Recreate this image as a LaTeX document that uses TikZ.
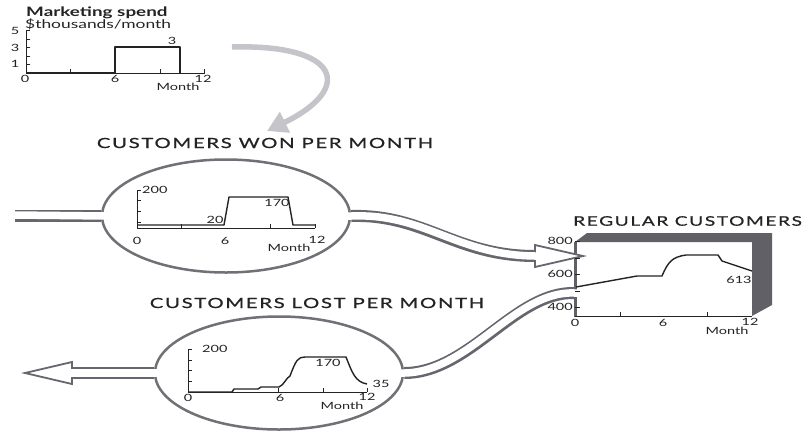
\documentclass[tikz,border=0pt]{standalone}
\usepackage{fontspec}
\setmainfont{Lato}[FakeStretch=1.45]
\newfontfamily\headfont{Lato}[FakeStretch=1.45,LetterSpace=12,FakeBold=0.8]
\usetikzlibrary{arrows.meta, shapes.geometric}
\definecolor{pipegray}{RGB}{102,102,110}
\definecolor{rimgray}{RGB}{112,112,118}
\definecolor{boxgray}{RGB}{96,96,102}
\definecolor{nudgegray}{RGB}{196,196,202}
\definecolor{inkgray}{RGB}{35,35,35}

\begin{document}
\begin{tikzpicture}[
        x=1pt, y=-1pt,
        every node/.style={font=\fontsize{10}{10}\selectfont, inner sep=0pt, text=inkgray},
        heading/.style={font=\headfont\fontsize{14}{14}\selectfont},
        axis/.style={line width=1pt, inkgray},
        plotline/.style={line width=1.4pt, inkgray, line join=round},
        rim/.style={ellipse, draw=rimgray, line width=2.5pt, fill=white, minimum width=248pt, minimum height=113pt},
        pipe/.style={line width=12pt, draw=pipegray},
        pipecore/.style={line width=7.5pt, draw=white, yshift=1pt},
        pipehead/.style={draw=pipegray, line width=1.8pt, fill=white, line join=miter},
        wall/.style={line width=3pt, boxgray}
    ]
    \useasboundingbox (0,0) rectangle (809,437);

    \node[font=\bfseries\fontsize{13}{13}\selectfont, anchor=base west] (spendtitle) at (26,16) {Marketing spend};
    \node[font=\fontsize{12}{12}\selectfont, anchor=base west] (spendunit) at (25,28) {\$thousands/month};
    \draw[axis] (26,30) -- (26,73) -- (205,73);
    \foreach \y in {30,39,47,56,64} \draw[axis] (26,\y) -- (30,\y);
    \foreach \x in {70,160,204} \draw[axis] (\x,73) -- (\x,69);
    \draw[plotline] (26,73) -- (115,73) -- (115,47) -- (180,47) -- (180,73);
    \node (s5) at (15,31) {5};
    \node (s3) at (15,48) {3};
    \node (s1) at (15,64) {1};
    \node (s3top) at (172,41) {3};
    \node (s0) at (25,79) {0};
    \node (s6) at (115,79) {6};
    \node (s12) at (203,79) {12};
    \node (smonth) at (178,87) {Month};

    \coordinate (nudge) at (232,47);
    \coordinate (nudgetip) at (267,131);
    \draw[line width=5.5pt, nudgegray, -{Triangle[length=20pt, width=22pt]}] (nudge) .. controls (340,44) and (355,88) .. (nudgetip);

    \node[heading] (wontitle) at (265,143) {CUSTOMERS WON PER MONTH};
    \node[heading] (losttitle) at (317,303) {CUSTOMERS LOST PER MONTH};
    \node[heading, font=\headfont\fontsize{13.2}{13.2}\selectfont, anchor=west] (stocktitle) at (573,221) {REGULAR CUSTOMERS};

    \node[rim] (won) at (226,216) {};
    \node[rim] (lost) at (279,373) {};

    \fill[boxgray] (575,242) -- (587,233) -- (772,233) -- (772,305) -- (752,316) -- (752,242) -- cycle;
    \draw[wall] (575,242) -- (575,317);

    \coordinate (inlet) at (535,256);
    \coordinate (drain) at (575,293);
    \coordinate (outlet) at (72,373);

    \draw[pipe] (15,216) -- (won.west);
    \draw[pipe] (won.east) .. controls (425,214) and (455,256) .. (inlet);
    \draw[pipe] (drain) .. controls (515,291) and (470,373) .. (lost.east);
    \draw[pipe] (lost.west) -- (outlet);
    \draw[pipehead] (535,245) -- (583,256) -- (535,267) -- cycle;
    \draw[pipehead] (72,362) -- (25,373) -- (72,384) -- cycle;
    \draw[pipecore] (15,216) -- ([xshift=5pt]won.west);
    \draw[pipecore] ([xshift=-5pt]won.east) -- (won.east) .. controls (425,214) and (455,256) .. (inlet) -- ++(6,0);
    \draw[pipecore] ([xshift=6pt]drain) -- (drain) .. controls (515,291) and (470,373) .. (lost.east) -- ++(-5,0);
    \draw[pipecore] ([xshift=5pt]lost.west) -- (lost.west) -- (outlet) -- ++(-6,0);

    \draw[axis] (137,190) -- (137,228) -- (315,228);
    \foreach \y in {190,200,211,222} \draw[axis] (137,\y) -- (141,\y);
    \foreach \x in {181,270,315} \draw[axis] (\x,228) -- (\x,224);
    \draw[plotline] (137,225) -- (224,225) -- (229,197) -- (288,197) -- (293,225) -- (315,225);
    \node[anchor=west] (w200) at (142,190) {200};
    \node (w20) at (215,220) {20};
    \node (w170) at (277,203) {170};
    \node (w0) at (137,241) {0};
    \node (w6) at (225,241) {6};
    \node (w12) at (317,240) {12};
    \node (wmonth) at (289,248) {Month};

    \draw[axis] (188,349) -- (188,392) -- (367,392);
    \foreach \y in {349,360,370,381} \draw[axis] (188,\y) -- (192,\y);
    \foreach \x in {278,323,367} \draw[axis] (\x,392) -- (\x,388);
    \draw[plotline] (188,392) -- (232,392) -- (234,389) -- (258,389) -- (261,387) -- (279,387)
        .. controls (284,385) and (286,378) .. (290,376)
        .. controls (296,360) and (298,357) .. (305,357) -- (346,357)
        .. controls (352,372) and (355,382) .. (367,384);
    \node[anchor=west] (l200) at (202,349) {200};
    \node (l170) at (328,363) {170};
    \node (l35) at (381,384) {35};
    \node (l0) at (188,398) {0};
    \node (l6) at (280,398) {6};
    \node (l12) at (367,397) {12};
    \node (lmonth) at (342,406) {Month};

    \draw[axis] (575,316) -- (752,316);
    \foreach \y in {241,258,274,291,307} \draw[axis] (575,\y) -- (580,\y);
    \foreach \x in {620,707} \draw[axis] (\x,316) -- (\x,312);
    \draw[plotline] (576,287) -- (637,276) -- (662,276)
        .. controls (668,262) and (672,257) .. (686,255) -- (718,255) -- (722,261) -- (752,271);
    \node[anchor=east] (r800) at (573,241) {800};
    \node[anchor=east] (r600) at (573,274) {600};
    \node[anchor=east] (r400) at (573,307) {400};
    \node (r613) at (739,280) {613};
    \node (r0) at (575,323) {0};
    \node (r6) at (663,323) {6};
    \node (r12) at (750,322) {12};
    \node (rmonth) at (727,331) {Month};
\end{tikzpicture}
\end{document}
